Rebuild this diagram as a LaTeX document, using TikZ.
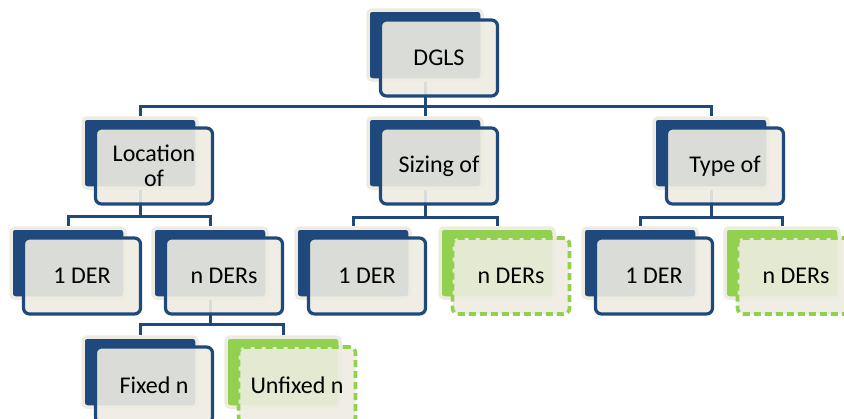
\documentclass[tikz,border=0pt]{standalone}
\usepackage{fontspec}
\setmainfont{Carlito}
\definecolor{dglsblue}{HTML}{1F497D}
\definecolor{dglsgreen}{HTML}{92D050}
\definecolor{dglscream}{HTML}{EEECE1}

\begin{document}
\begin{tikzpicture}
	[
		x=1pt, y=-1pt,
		% Make a style for the blue card lying behind a label.
		backcard/.style={rectangle, rounded corners=4pt, minimum width=114pt, minimum height=70pt,
			fill=dglsblue, draw=dglscream, line width=3.5pt},
		% And one for a green card.
		greencard/.style={backcard, fill=dglsgreen},
		% The light card on top, which holds the text.
		frontcard/.style={rectangle, rounded corners=6pt, minimum width=117pt, minimum height=76pt,
			fill=dglscream, fill opacity=0.9, text opacity=1, draw=dglsblue, line width=3.2pt,
			align=center, text=black, font=\fontsize{24}{25}\selectfont},
		greenfront/.style={frontcard, draw=dglsgreen, line width=3.6pt, dash pattern=on 7pt off 4pt},
		% Connector lines
		link/.style={draw=dglsblue, line width=3pt}
	]
		\useasboundingbox (0,0) rectangle (844,418);
		\clip (0,0) rectangle (844,418);

		% Back cards
		\node[backcard] (dgls) at (425,45) {};
		\node[backcard] (loc) at (140,153) {};
		\node[backcard] (siz) at (425,153) {};
		\node[backcard] (typ) at (711,153) {};
		\node[backcard] (loc1) at (68,263) {};
		\node[backcard] (locn) at (210,263) {};
		\node[backcard] (siz1) at (353,263) {};
		\node[greencard] (sizn) at (497,263) {};
		\node[backcard] (typ1) at (640,263) {};
		\node[greencard] (typn) at (782,263) {};
		\node[backcard] (fix) at (140,372) {};
		\node[greencard] (unf) at (283,372) {};

		% Draw links
		\draw[link] (dgls.south) -- ++(0,25) -| (loc.north);
		\draw[link] (dgls.south) -- ++(0,25) -| (siz.north);
		\draw[link] (dgls.south) -- ++(0,25) -| (typ.north);
		\draw[link] (loc.south) -- ++(0,27) -| (loc1.north);
		\draw[link] (loc.south) -- ++(0,27) -| (locn.north);
		\draw[link] (siz.south) -- ++(0,28) -| (siz1.north);
		\draw[link] (siz.south) -- ++(0,28) -| (sizn.north);
		\draw[link] (typ.south) -- ++(0,28) -| (typ1.north);
		\draw[link] (typ.south) -- ++(0,28) -| (typn.north);
		\draw[link] (locn.south) -- ++(0,25) -| (fix.north);
		\draw[link] (locn.south) -- ++(0,25) -| (unf.north);

		% Front cards with the text
		\node[frontcard] (dgls-t) at ([shift={(14,13)}]dgls) {DGLS};
		\node[frontcard] (loc-t) at ([shift={(14,13)}]loc) {Location\\of};
		\node[frontcard] (siz-t) at ([shift={(14,13)}]siz) {Sizing of};
		\node[frontcard] (typ-t) at ([shift={(14,13)}]typ) {Type of};
		\node[frontcard] (loc1-t) at ([shift={(14,13)}]loc1) {1 DER};
		\node[frontcard] (locn-t) at ([shift={(14,13)}]locn) {n DERs};
		\node[frontcard] (siz1-t) at ([shift={(14,13)}]siz1) {1 DER};
		\node[greenfront] (sizn-t) at ([shift={(14,13)}]sizn) {n DERs};
		\node[frontcard] (typ1-t) at ([shift={(14,13)}]typ1) {1 DER};
		\node[greenfront] (typn-t) at ([shift={(14,13)}]typn) {n DERs};
		\node[frontcard] (fix-t) at ([shift={(14,13)}]fix) {Fixed n};
		\node[greenfront] (unf-t) at ([shift={(14,13)}]unf) {Unfixed n};
\end{tikzpicture}
\end{document}
